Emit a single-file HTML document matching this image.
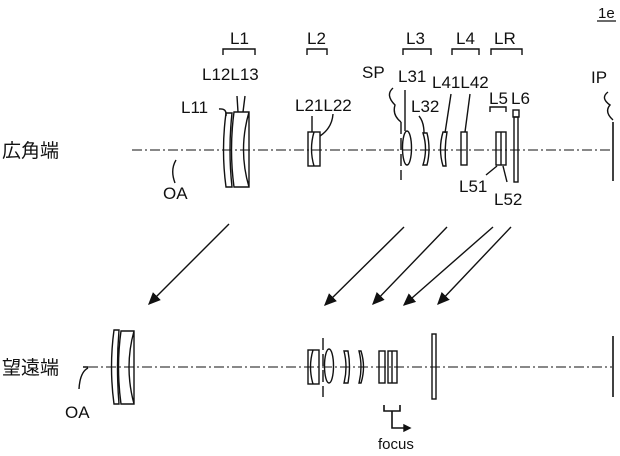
<!DOCTYPE html>
<html><head><style>
body{margin:0;background:#fff}
svg{display:block}
text{font-family:"Liberation Sans","Noto Sans CJK JP",sans-serif;font-size:17px;fill:#111}
.j{font-size:19px}
</style></head><body>
<svg width="620" height="456" viewBox="0 0 620 456" fill="none" stroke="#111" stroke-width="1.4">
<defs><marker id="a" markerWidth="10" markerHeight="10" refX="8" refY="5" orient="auto"><path d="M0,1 L9,5 L0,9 Z" fill="#111" stroke="none"/></marker></defs>
<g stroke="none">
<text x="598" y="18" style="font-size:15px">1e</text>
<text class="j" x="2" y="157">広角端</text>
<text class="j" x="2" y="374">望遠端</text>
<text x="230" y="44">L1</text><text x="307" y="44">L2</text><text x="406" y="44">L3</text><text x="456" y="44">L4</text><text x="494" y="44">LR</text>
<text x="202" y="80">L12L13</text><text x="181" y="113">L11</text><text x="295" y="111">L21L22</text>
<text x="362" y="78">SP</text><text x="398" y="82">L31</text><text x="411" y="112">L32</text><text x="432" y="88">L41L42</text>
<text x="489" y="104">L5</text><text x="511" y="104">L6</text><text x="591" y="83">IP</text>
<text x="459" y="192">L51</text><text x="494" y="205">L52</text>
<text x="163" y="199">OA</text><text x="65" y="418">OA</text>
<text x="378" y="449" style="font-size:15px">focus</text>
</g>
<line x1="597" y1="21" x2="616" y2="21" stroke-width="1.2"/>
<g stroke-dasharray="10,3,2,3" stroke-width="1">
<line x1="132" y1="150" x2="612" y2="150"/><line x1="88" y1="367" x2="612" y2="367"/>
</g>
<path d="M223,55 V49 H255 V55 M307,55 V49 H327 V55 M403,55 V49 H431 V55 M452,55 V49 H479 V55 M491,55 V49 H522 V55 M490,112 V107 H506 V112"/>
<path d="M226,113 Q221,150 226,187 H232 Q228,150 232,113 Z"/>
<path d="M234,112 Q229,150 234,187 H249 V112 Z M249,112 Q238,150 249,187"/>
<rect x="308" y="132" width="12" height="34"/><path d="M314,132 Q309,149 314,166"/>
<line x1="401" y1="122" x2="401" y2="180" stroke-dasharray="12,4"/>
<ellipse cx="407" cy="148" rx="4.5" ry="17"/>
<path d="M423,133 Q428,149 423,165 H427 Q431,149 427,133 Z"/>
<path d="M443,132 Q438,149 443,166 H446 Q444,149 447,132 Z"/>
<rect x="461" y="132" width="6" height="33"/>
<rect x="496" y="132" width="10" height="33"/><line x1="501" y1="132" x2="501" y2="165"/>
<rect x="514" y="117" width="4" height="65"/><rect x="513" y="110" width="6" height="7"/>
<line x1="613" y1="122" x2="613" y2="181" stroke-width="1.6"/>
<path d="M219,109 Q227,108 226,116 M237,96 L238,112 M245,96 L243,112 M312,116 L312,132 M333,114 Q332,128 320,136 M393,88 Q385,95 395,105 Q392,115 401,122 M405,90 L405,131 M419,116 Q424,122 424,133 M451,94 L445,133 M470,94 L465,132 M497,166 L486,175 M503,166 L507,182 M176,160 Q170,170 175,183 M608,92 Q600,98 610,105 Q604,112 613,120"/>
<path d="M79,389 Q80,372 88,368 M83,367 H88"/>
<g marker-end="url(#a)">
<line x1="229" y1="224" x2="149" y2="304"/>
<line x1="404" y1="227" x2="325" y2="305"/>
<line x1="447" y1="227" x2="373" y2="304"/>
<line x1="493" y1="227" x2="404" y2="305"/>
<line x1="511" y1="227" x2="438" y2="304"/>
</g>
<path d="M114,330 Q109,367 114,404 H119 Q116,367 119,330 Z"/>
<path d="M121,331 Q116,367 121,404 H134 V331 Z M134,331 Q124,367 134,404"/>
<rect x="308" y="350" width="11" height="34"/><path d="M313,350 Q308,367 313,384"/>
<line x1="323" y1="338" x2="323" y2="397" stroke-dasharray="12,4"/>
<ellipse cx="329" cy="366" rx="4.5" ry="17"/>
<path d="M344,351 Q348,367 344,383 H348 Q351,367 348,351 Z"/>
<path d="M359,351 Q363,367 359,383 H361 Q366,367 361,351 Z"/>
<rect x="379" y="351" width="6" height="32"/>
<rect x="388" y="351" width="9" height="32"/><line x1="392" y1="351" x2="392" y2="383"/>
<rect x="432" y="334" width="4" height="65"/>
<line x1="613" y1="336" x2="613" y2="397" stroke-width="1.6"/>
<path d="M384,405 V411 H400 V405 M392,411 V428 H406" stroke-width="1.6"/>
<path d="M404,425 L410,428 L404,431 Z" fill="#111"/>
</svg>
</body></html>
